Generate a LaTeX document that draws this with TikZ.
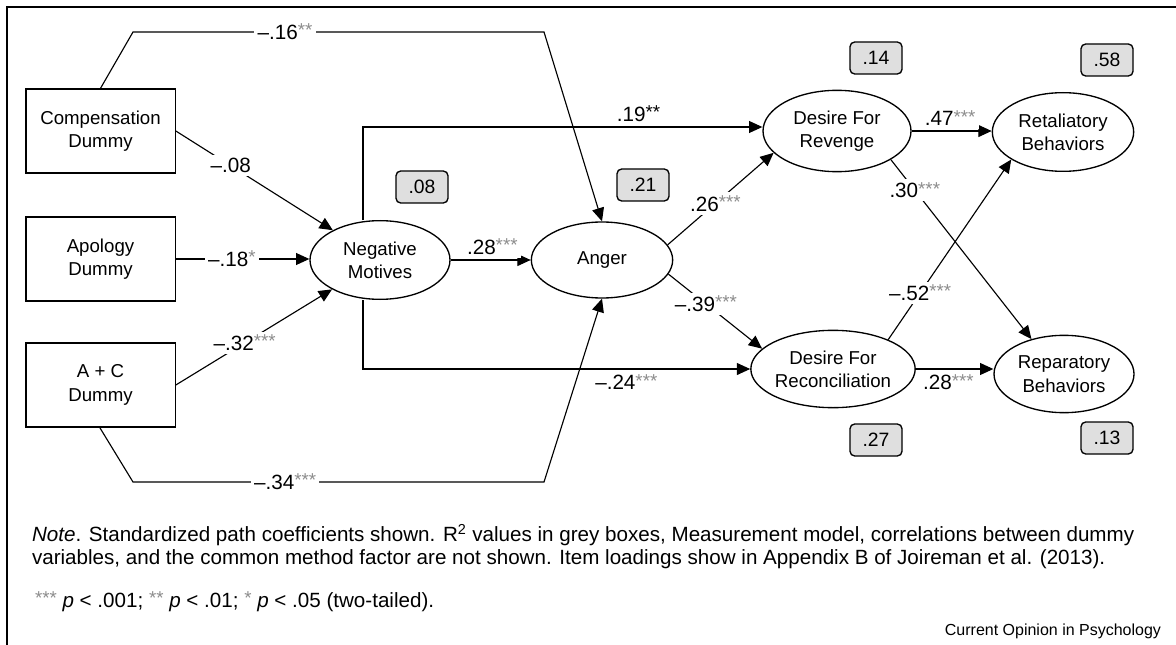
\documentclass[tikz,border=0pt]{standalone}
\usepackage{fontspec}
\setmainfont{Liberation Sans}
\usetikzlibrary{shapes.geometric,arrows.meta}

% grey significance stars
\newcommand{\sigstars}[1]{\raisebox{0.25ex}{\fontsize{14}{14}\selectfont\textcolor{black!45}{#1}}}

\begin{document}
\begin{tikzpicture}[x=0.75pt,y=-0.75pt,line width=0.85pt,
    arr/.style={-{Triangle[length=10pt,width=9pt]}},
    obs/.style={draw,line width=1pt,minimum width=112pt,minimum height=63pt,
        align=center,font=\fontsize{14}{17.5}\selectfont},
    latent/.style={draw,ellipse,line width=1pt,inner sep=0pt,align=center,
        font=\fontsize{14}{17.5}\selectfont},
    rsq/.style={draw,line width=1pt,rounded corners=3.5pt,fill=gray!25,
        minimum width=39pt,minimum height=24pt,inner sep=0pt,
        font=\fontsize{14.5}{16}\selectfont},
    coef/.style={fill=white,inner sep=2.5pt,font=\fontsize{15.5}{17}\selectfont}]
    \useasboundingbox (0,0) rectangle (1176,645);

    % frame
    \draw[line width=1.2pt] (7,645) -- (7,7) -- (1176,7);

    % observed dummies
    \node[obs] (comp) at (100.5,131) {Compensation\\Dummy};
    \node[obs] (apol) at (100.5,259) {Apology\\Dummy};
    \node[obs] (ac)   at (100.5,385) {A + C\\Dummy};

    % latent variables
    \node[latent,minimum width=105pt,minimum height=59pt] (nm)    at (380,260) {Negative\\Motives};
    \node[latent,minimum width=106pt,minimum height=57pt] (anger) at (602,260) {Anger};
    \node[latent,minimum width=111pt,minimum height=61pt] (rev)   at (837,131) {Desire For\\Revenge};
    \node[latent,minimum width=106pt,minimum height=59pt] (ret)   at (1063,132) {Retaliatory\\Behaviors};
    \node[latent,minimum width=110pt,minimum height=58pt] (rec)   at (833,369) {Desire For\\Reconciliation};
    \node[latent,minimum width=105pt,minimum height=58pt] (rep)   at (1064,374) {Reparatory\\Behaviors};

    % R^2 values
    \node[rsq] (r2nm)  at (422,187) {.08};
    \node[rsq] (r2ang) at (643,185) {.21};
    \node[rsq] (r2rev) at (876,58)  {.14};
    \node[rsq] (r2ret) at (1107,60) {.58};
    \node[rsq] (r2rec) at (876,440) {.27};
    \node[rsq] (r2rep) at (1107,438) {.13};

    % bend points
    \coordinate (t1) at (133,32);
    \coordinate (t2) at (544,32);
    \coordinate (b1) at (133,482);
    \coordinate (b2) at (544,482);
    \coordinate (u) at (363,127);
    \coordinate (d) at (363,369);

    % dummies
    \draw[arr] (comp.north) -- (t1) -- node[coef,pos=0.37] {--.16\sigstars{**}} (t2) -- (anger.north);
    \draw[arr] (comp.east) -- node[coef,pos=0.35] {--.08} (nm);
    \draw[arr] (apol.east) -- node[coef,pos=0.42] {--.18\sigstars{*}} (apol.east -| nm.west);
    \draw[arr] (ac.east) -- node[coef,pos=0.44] {--.32\sigstars{***}} (nm);
    \draw[arr] ([xshift=-0.5pt]ac.south) -- (b1) -- node[coef,pos=0.37] {--.34\sigstars{***}} (b2) -- (anger.south);

    % negative motives
    \draw[arr] (nm.east) -- node[coef,pos=0.52,above=1pt] {.28\sigstars{***}} (nm.east -| anger.west);
    \draw[arr] (nm.north -| u) -- (u) -- node[coef,pos=0.69,above=1pt] {.19\raisebox{0.25ex}{\fontsize{14}{14}\selectfont**}} (u -| rev.west);
    \draw[arr] (nm.south -| d) -- (d) -- node[coef,pos=0.68,below=1pt] {--.24\sigstars{***}} (d -| rec.west);

    % anger
    \draw[arr] (anger.13) -- node[coef,pos=0.45] {.26\sigstars{***}} (rev.199);
    \draw[arr] (anger.-12) -- node[coef,pos=0.4] {--.39\sigstars{***}} (rec.164);

    % desires
    \draw[arr] (rev.east) -- node[coef,pos=0.48,above=1pt] {.47\sigstars{***}} (rev.east -| ret.west);
    \draw[arr] (rev.-28) -- node[coef,pos=0.17] {.30\sigstars{***}} (rep.133);
    \draw[arr] (rec.28) -- node[coef,pos=0.26] {--.52\sigstars{***}} (ret.208);
    \draw[arr] (rec.east) -- node[coef,pos=0.42,below=1pt] {.28\sigstars{***}} (rec.east -| rep.west);

    % notes
    \node[anchor=base west,font=\fontsize{15.45}{18}\selectfont] (note1) at (27,541)
        {\textit{Note}. Standardized path coefficients shown. R\textsuperscript{2} values in grey boxes, Measurement model, correlations between dummy};
    \node[anchor=base west,font=\fontsize{15.45}{18}\selectfont] (note2) at (27,564)
        {variables, and the common method factor are not shown. Item loadings show in Appendix B of Joireman et al. (2013).};
    \node[anchor=base west,font=\fontsize{15.45}{18}\selectfont] (sig) at (30,607)
        {\sigstars{***} \textit{p} < .001; \sigstars{**} \textit{p} < .01; \sigstars{*} \textit{p} < .05 (two-tailed).};
    \node[anchor=base east,font=\fontsize{12}{14}\selectfont] (src) at (1166,635) {Current Opinion in Psychology};
\end{tikzpicture}
\end{document}
